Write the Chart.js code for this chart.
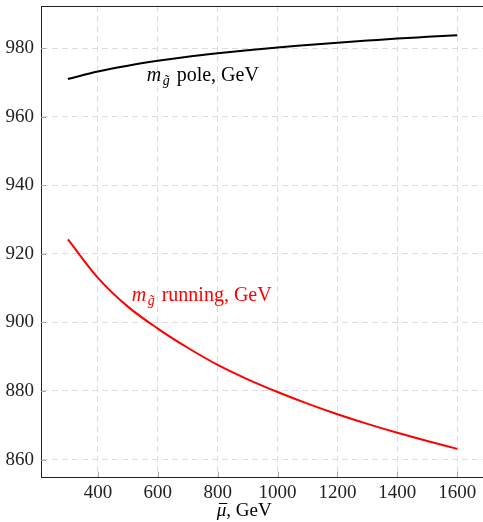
<!DOCTYPE html>
<html>
<head>
<meta charset="utf-8">
<script src="https://cdn.jsdelivr.net/npm/chart.js@4.4.0/dist/chart.umd.min.js"></script>
<style>
body { margin: 0; background: #fff; }
#wrap { width: 483px; height: 522px; position: relative; }
</style>
</head>
<body>
<div id="wrap"><canvas id="gluinoChart"></canvas></div>
<script>
// mu-bar scale points (GeV)
var muValues = [300, 400, 500, 600, 700, 800, 900, 1000, 1100, 1200, 1300, 1400, 1500, 1600];
// gluino pole mass
var poleMass = [971.0, 973.2, 974.9, 976.3, 977.5, 978.5, 979.4, 980.2, 980.9, 981.6, 982.2, 982.8, 983.3, 983.8];
// gluino running mass
var runningMass = [924.2, 913.0, 904.6, 898.2, 892.6, 887.6, 883.4, 879.7, 876.3, 873.2, 870.4, 867.8, 865.4, 863.1];

var xTicks = [400, 600, 800, 1000, 1200, 1400, 1600];
var yTicks = [860, 880, 900, 920, 940, 960, 980];

var xMin = 210, xMax = 1686;
var yMin = 854.9, yMax = 992.3;

var serif = '"Liberation Serif", "DejaVu Serif", serif';

function toPoints(xs, ys) {
  var pts = [];
  for (var i = 0; i < xs.length; i++) pts.push({x: xs[i], y: ys[i]});
  return pts;
}

// m with a g-tilde subscript, then the rest of the label
function drawMassLabel(ctx, x, y, rest, color) {
  ctx.fillStyle = color;
  ctx.textAlign = 'left';
  ctx.textBaseline = 'alphabetic';
  ctx.font = 'italic 20px ' + serif;
  ctx.fillText('m', x, y);
  var w = ctx.measureText('m').width + 1.5;
  ctx.font = 'italic 14px ' + serif;
  ctx.fillText('g\u0303', x + w, y + 4);
  w += ctx.measureText('g\u0303').width + 2;
  ctx.font = '20px ' + serif;
  ctx.fillText(' ' + rest, x + w, y);
}

var extras = {
  id: 'extras',
  afterDraw: function (chart) {
    var ctx = chart.ctx, a = chart.chartArea;
    var xs = chart.scales.x, ys = chart.scales.y;
    ctx.save();
    // top frame
    ctx.strokeStyle = '#222';
    ctx.lineWidth = 1;
    ctx.beginPath();
    ctx.moveTo(a.left, a.top + 0.5);
    ctx.lineTo(a.right, a.top + 0.5);
    ctx.stroke();
    // small inner ticks
    ctx.strokeStyle = '#aaa';
    ctx.beginPath();
    xTicks.forEach(function (v) {
      var px = Math.round(xs.getPixelForValue(v)) + 0.5;
      ctx.moveTo(px, a.bottom); ctx.lineTo(px, a.bottom - 5);
    });
    yTicks.forEach(function (v) {
      var py = Math.round(ys.getPixelForValue(v)) + 0.5;
      ctx.moveTo(a.left, py); ctx.lineTo(a.left + 5, py);
    });
    ctx.stroke();

    drawMassLabel(ctx, xs.getPixelForValue(563), ys.getPixelForValue(970.5), 'pole, GeV', '#000');
    drawMassLabel(ctx, xs.getPixelForValue(513), ys.getPixelForValue(906.2), 'running, GeV', '#ff0000');

    // x axis title: mu with a bar, then ", GeV"
    var tx = xs.getPixelForValue(797), ty = 516;
    ctx.fillStyle = '#000';
    ctx.textAlign = 'left';
    ctx.font = 'italic 19px ' + serif;
    ctx.fillText('\u03bc', tx, ty);
    var tw = ctx.measureText('\u03bc').width;
    ctx.strokeStyle = '#000';
    ctx.lineWidth = 1;
    ctx.beginPath();
    ctx.moveTo(tx + 2, ty - 12.5);
    ctx.lineTo(tx + tw + 1, ty - 12.5);
    ctx.stroke();
    ctx.font = '19px ' + serif;
    ctx.fillText(', GeV', tx + tw, ty);
    ctx.restore();
  }
};

new Chart(document.getElementById('gluinoChart'), {
  type: 'line',
  data: {
    datasets: [
      {
        label: 'pole',
        data: toPoints(muValues, poleMass),
        borderColor: '#000',
        borderWidth: 2,
        pointRadius: 0,
        cubicInterpolationMode: 'monotone',
        fill: false
      },
      {
        label: 'running',
        data: toPoints(muValues, runningMass),
        borderColor: '#ff0000',
        borderWidth: 2,
        pointRadius: 0,
        cubicInterpolationMode: 'monotone',
        fill: false
      }
    ]
  },
  options: {
    responsive: true,
    maintainAspectRatio: false,
    animation: false,
    layout: { padding: { top: 6, left: 0, right: 0, bottom: 0 } },
    plugins: { legend: { display: false }, tooltip: { enabled: false } },
    scales: {
      x: {
        type: 'linear',
        min: xMin,
        max: xMax,
        afterBuildTicks: function (s) { s.ticks = xTicks.map(function (v) { return {value: v}; }); },
        afterFit: function (s) { s.height = 45; s.paddingLeft = 0; s.paddingRight = 0; },
        grid: { color: '#dcdcdc', lineWidth: 1, drawTicks: false },
        border: { display: true, color: '#222', width: 1, dash: [6, 4] },
        ticks: {
          color: '#222', padding: 5, maxRotation: 0, font: { family: serif, size: 19 },
          callback: function (v) { return String(v); }
        }
      },
      y: {
        min: yMin,
        max: yMax,
        afterBuildTicks: function (s) { s.ticks = yTicks.map(function (v) { return {value: v}; }); },
        afterFit: function (s) { s.width = 41; s.paddingTop = 0; s.paddingBottom = 0; },
        grid: { color: '#dcdcdc', lineWidth: 1, drawTicks: false },
        border: { display: true, color: '#222', width: 1, dash: [6, 4] },
        ticks: {
          color: '#222', padding: 7, font: { family: serif, size: 19 },
          callback: function (v) { return String(v); }
        }
      }
    }
  },
  plugins: [extras]
});
</script>
</body>
</html>
